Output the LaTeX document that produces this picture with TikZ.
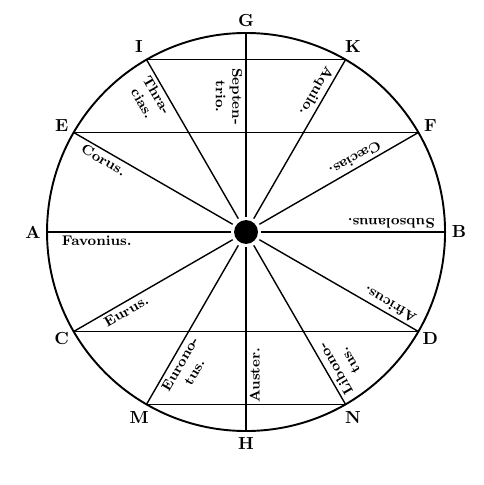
\documentclass[tikz,border=0pt]{standalone}
\usetikzlibrary{calc}
\begin{document}
\begin{tikzpicture}[
  rim/.style={line width=1.1pt},
  ray/.style={line width=0.8pt},
  chord/.style={line width=0.8pt},
  pt/.style={font=\bfseries},
  wind/.style={font=\footnotesize\bfseries, align=center, anchor=north, inner sep=2pt},
  sun/.style={circle, fill=black, minimum size=0.48cm, inner sep=0pt, outer sep=2pt},
]
\useasboundingbox (-4.945,-5.085) rectangle (4.764,4.663);

% === Rim and the twelve points ===
\draw[rim] (0,0) circle (4);
\node[sun] (sun) at (0,0) {};

\coordinate (B) at (0:4);
\coordinate (F) at (30:4);
\coordinate (K) at (60:4);
\coordinate (G) at (90:4);
\coordinate (I) at (120:4);
\coordinate (E) at (150:4);
\coordinate (A) at (180:4);
\coordinate (C) at (210:4);
\coordinate (M) at (240:4);
\coordinate (H) at (270:4);
\coordinate (N) at (300:4);
\coordinate (D) at (330:4);

\node[pt] (lB) at (0:4.28) {B};
\node[pt] (lF) at (30:4.28) {F};
\node[pt] (lK) at (60:4.3) {K};
\node[pt] (lG) at (90:4.26) {G};
\node[pt] (lI) at (120:4.3) {I};
\node[pt] (lE) at (150:4.28) {E};
\node[pt] (lA) at (180:4.28) {A};
\node[pt] (lC) at (210:4.28) {C};
\node[pt] (lM) at (240:4.3) {M};
\node[pt] (lH) at (270:4.26) {H};
\node[pt] (lN) at (300:4.3) {N};
\node[pt] (lD) at (330:4.28) {D};

% === Rays to the sun ===
\draw[ray] (A) -- (sun);
\draw[ray] (B) -- (sun);
\draw[ray] (G) -- (sun);
\draw[ray] (H) -- (sun);
\draw[ray] (E) -- (sun);
\draw[ray] (F) -- (sun);
\draw[ray] (C) -- (sun);
\draw[ray] (D) -- (sun);
\draw[ray] (I) -- (sun);
\draw[ray] (K) -- (sun);
\draw[ray] (M) -- (sun);
\draw[ray] (N) -- (sun);

% === Chords ===
\draw[chord] (I) -- (K);
\draw[chord] (E) -- (F);
\draw[chord] (C) -- (D);
\draw[chord] (M) -- (N);

% === Winds ===
\node[wind, rotate=0]   (favonius)   at ($(sun)!0.75!(A)$) {Favonius.};
\node[wind, rotate=180] (subsolanus) at ($(sun)!0.73!(B)$) {Subsolanus.};
\node[wind, rotate=-30] (corus)      at ($(sun)!0.80!(E)$) {Corus.};
\node[wind, rotate=210] (caecias)    at ($(sun)!0.66!(F)$) {C\ae cias.};
\node[wind, rotate=30]  (eurus)      at ($(sun)!0.72!(C)$) {Eurus.};
\node[wind, rotate=150] (africus)    at ($(sun)!0.81!(D)$) {Africus.};
\node[wind, rotate=-60] (thracias)   at ($(sun)!0.82!(I)$) {Thra-\\cias.};
\node[wind, rotate=-90] (septentrio) at ($(sun)!0.68!(G)$) {Septen-\\trio.};
\node[wind, rotate=240] (aquilo)     at ($(sun)!0.79!(K)$) {Aquilo.};
\node[wind, rotate=60]  (euronotus)  at ($(sun)!0.74!(M)$) {Eurono-\\tus.};
\node[wind, rotate=90]  (auster)     at ($(sun)!0.72!(H)$) {Auster.};
\node[wind, rotate=120] (libonotus)  at ($(sun)!0.82!(N)$) {Libono-\\tus.};

\end{tikzpicture}
\end{document}
